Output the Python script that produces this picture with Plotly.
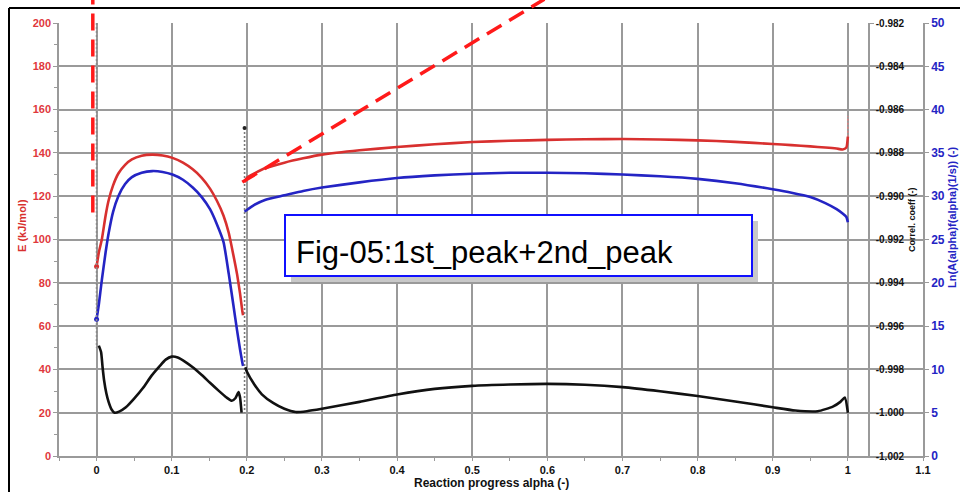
import plotly.graph_objects as go

# ---- data: reaction progress alpha vs. activation energy / ln(A f) / correlation ----
# first peak (0 <= alpha < 0.2)
alpha_p1 = [0.000, 0.003, 0.007, 0.012, 0.016, 0.022, 0.029, 0.038, 0.047, 0.060,
            0.074, 0.088, 0.101, 0.115, 0.128, 0.140, 0.151, 0.160, 0.169, 0.176,
            0.182, 0.187, 0.191, 0.194, 0.195]
E_p1 = [87.5, 94.0, 100.0, 111.0, 118.0, 125.0, 130.5, 134.5, 137.0, 138.7,
        139.2, 138.8, 137.7, 135.5, 132.4, 128.5, 123.5, 118.0, 111.0, 103.0,
        93.0, 84.0, 75.0, 67.0, 65.0]
lnA_p1 = [15.8, 17.5, 20.3, 23.5, 25.7, 28.2, 30.0, 31.4, 32.2, 32.7,
          32.9, 32.8, 32.5, 31.9, 31.0, 29.9, 28.5, 26.8, 24.7, 21.0,
          17.5, 14.5, 12.3, 10.8, 10.4]

alpha_r1 = [0.003, 0.006, 0.008, 0.010, 0.013, 0.016, 0.020, 0.024, 0.030, 0.039,
            0.050, 0.062, 0.073, 0.084, 0.092, 0.100, 0.108, 0.118, 0.128, 0.140,
            0.151, 0.162, 0.173, 0.180, 0.185, 0.189, 0.191, 0.193]
R_p1 = [-0.99690, -0.99720, -0.99790, -0.99850, -0.99910, -0.99950, -0.99985, -1.00000,
        -0.99995, -0.99975, -0.99935, -0.99885, -0.99830, -0.99785, -0.99755, -0.99741,
        -0.99745, -0.99765, -0.99790, -0.99826, -0.99862, -0.99897, -0.99930, -0.99945,
        -0.99932, -0.99905, -0.99930, -1.00000]

# second peak (0.2 <= alpha <= 1)
alpha_p2 = [0.197, 0.200, 0.210, 0.225, 0.250, 0.275, 0.300, 0.350, 0.400, 0.450,
            0.500, 0.550, 0.600, 0.650, 0.700, 0.750, 0.800, 0.850, 0.900, 0.925,
            0.950, 0.970, 0.985, 0.993, 0.998, 1.000]
E_p2 = [126.5, 128.5, 130.5, 133.0, 135.5, 137.5, 139.2, 141.2, 142.7, 144.0,
        145.0, 145.6, 146.0, 146.3, 146.4, 146.2, 145.8, 145.1, 144.1, 143.6,
        143.0, 142.5, 142.0, 141.6, 142.5, 147.5]
lnA_p2 = [28.2, 28.4, 29.0, 29.6, 30.1, 30.6, 31.0, 31.6, 32.1, 32.4,
          32.6, 32.7, 32.7, 32.65, 32.5, 32.3, 32.0, 31.5, 30.8, 30.4,
          29.9, 29.2, 28.5, 28.0, 27.6, 27.0]

alpha_r2 = [0.198, 0.200, 0.210, 0.220, 0.235, 0.250, 0.265, 0.280, 0.300, 0.350,
            0.400, 0.450, 0.500, 0.550, 0.600, 0.650, 0.700, 0.750, 0.800, 0.850,
            0.900, 0.930, 0.960, 0.980, 0.990, 0.996, 1.000]
R_p2 = [-0.99790, -0.99810, -0.99870, -0.99915, -0.99955, -0.99982, -0.99997, -0.99993,
        -0.99982, -0.99950, -0.99916, -0.99890, -0.99876, -0.99870, -0.99867, -0.99871,
        -0.99882, -0.99901, -0.99923, -0.99948, -0.99975, -0.99990, -0.99993, -0.99972,
        -0.99950, -0.99930, -1.00000]

# scattered point columns at the segment boundaries
col_alpha = [0.0, 0.0]
col_R = [-0.9820, -0.9970]
col2_alpha = [0.197, 0.197]
col2_R = [-0.98685, -1.0000]
col3_alpha = [1.0, 1.0]
col3_E = [147.5, 157.0]

x_ticks = [0, 0.1, 0.2, 0.3, 0.4, 0.5, 0.6, 0.7, 0.8, 0.9, 1.0, 1.1]
x_labels = ["0", "0.1", "0.2", "0.3", "0.4", "0.5", "0.6", "0.7", "0.8", "0.9", "1", "1.1"]
r_ticks = [-1.002, -1.000, -0.998, -0.996, -0.994, -0.992, -0.990, -0.988, -0.986, -0.984, -0.982]
r_labels = ["-1.002", "-1.000", "-0.998", "-0.996", "-0.994", "-0.992", "-0.990",
            "-0.988", "-0.986", "-0.984", "-0.982"]

title_text = "Fig-05:1st_peak+2nd_peak"

# ---- styling ----
RED = "#d8302f"
BLUE = "#2424c4"
BLACK = "#111111"
GRID = "#9a9a9a"
FONT = "Arial, Liberation Sans, sans-serif"

X_RANGE = [-0.05, 1.1]
E_RANGE = [0, 200]

# figure geometry in pixels (used for paper-space decorations)
W, H = 960, 492
ML, MR, MT, MB = 59, 37, 23, 36
PW, PH = W - ML - MR, H - MT - MB


def px(xpix):
    return (xpix - ML) / PW


def py(ypix):
    return (H - MB - ypix) / PH


def ax_x(a):
    return (a - X_RANGE[0]) / (X_RANGE[1] - X_RANGE[0])


def ax_e(e):
    return (e - E_RANGE[0]) / (E_RANGE[1] - E_RANGE[0])


fig = go.Figure()

# dotted point columns
fig.add_trace(go.Scatter(x=col_alpha, y=col_R, yaxis="y3", mode="lines",
                         line=dict(color="#8a8a8a", width=1.6, dash="2px,2px"),
                         hoverinfo="skip", showlegend=False))
fig.add_trace(go.Scatter(x=col2_alpha, y=col2_R, yaxis="y3", mode="lines",
                         line=dict(color="#7a7a7a", width=1.6, dash="2px,2px"),
                         hoverinfo="skip", showlegend=False))
fig.add_trace(go.Scatter(x=col2_alpha[:1], y=col2_R[:1], yaxis="y3", mode="markers",
                         marker=dict(color="#222", size=4),
                         hoverinfo="skip", showlegend=False))
fig.add_trace(go.Scatter(x=col3_alpha, y=col3_E, mode="lines",
                         line=dict(color="#e08080", width=1.4, dash="2px,2px"),
                         hoverinfo="skip", showlegend=False))

LINE_SHAPE = dict(shape="spline", smoothing=0.5)

# correlation coefficient
for xa, ya in ((alpha_r1, R_p1), (alpha_r2, R_p2)):
    fig.add_trace(go.Scatter(x=xa, y=ya, yaxis="y3", mode="lines",
                             line=dict(color=BLACK, width=2.6, **LINE_SHAPE),
                             showlegend=False))

# ln(A f(alpha))
for xa, ya in ((alpha_p1, lnA_p1), (alpha_p2, lnA_p2)):
    fig.add_trace(go.Scatter(x=xa, y=ya, yaxis="y2", mode="lines",
                             line=dict(color=BLUE, width=2.6, **LINE_SHAPE),
                             showlegend=False))

# activation energy
for xa, ya in ((alpha_p1, E_p1), (alpha_p2, E_p2)):
    fig.add_trace(go.Scatter(x=xa, y=ya, mode="lines",
                             line=dict(color=RED, width=2.6, **LINE_SHAPE),
                             showlegend=False))
# end markers of the first segment
fig.add_trace(go.Scatter(x=[alpha_p1[0]], y=[E_p1[0]], mode="markers",
                         marker=dict(color=RED, size=5), showlegend=False))
fig.add_trace(go.Scatter(x=[alpha_p1[0]], y=[lnA_p1[0]], yaxis="y2", mode="markers",
                         marker=dict(color=BLUE, size=5), showlegend=False))

shapes = []
# outer frame
shapes.append(dict(type="line", xref="paper", yref="paper",
                   x0=px(9), x1=px(9), y0=py(8), y1=py(520),
                   line=dict(color="black", width=2)))
shapes.append(dict(type="line", xref="paper", yref="paper",
                   x0=px(9), x1=px(990), y0=py(8), y1=py(8),
                   line=dict(color="black", width=2)))
# red dashed guide lines (alpha, E)
guide_v = [(-0.005, 112.5), (-0.005, 212.0)]
guide_d = [(0.194, 126.5), (0.596, 211.0)]
for (a0, e0), (a1, e1) in (guide_v, guide_d):
    shapes.append(dict(type="line", xref="paper", yref="paper",
                       x0=ax_x(a0), y0=ax_e(e0), x1=ax_x(a1), y1=ax_e(e1),
                       line=dict(color="#ff1a1a", width=3.5, dash="17px,9px"), layer="above"))
# caption box with drop shadow
shapes.append(dict(type="rect", xref="paper", yref="paper",
                   x0=px(291), x1=px(758), y0=py(221), y1=py(282),
                   fillcolor="#c8c8c8", line=dict(width=0), layer="above"))
shapes.append(dict(type="rect", xref="paper", yref="paper",
                   x0=px(285), x1=px(752), y0=py(215), y1=py(276),
                   fillcolor="white", line=dict(color="#1010ff", width=2), layer="above"))

annotations = [
    dict(text=title_text, xref="paper", yref="paper", x=px(294), y=py(252),
         xanchor="left", yanchor="middle", showarrow=False,
         font=dict(family=FONT, size=31, color="black")),
    dict(text="E (kJ/mol)", xref="paper", yref="paper", x=px(22), y=py(226),
         textangle=-90, showarrow=False, xanchor="center", yanchor="middle",
         font=dict(family=FONT, size=11, color=RED, weight="bold")),
    dict(text="Correl. coeff (-)", xref="paper", yref="paper", x=px(912), y=py(220),
         textangle=-90, showarrow=False, xanchor="center", yanchor="middle",
         font=dict(family=FONT, size=9, color=BLACK, weight="bold")),
    dict(text="Ln(A(alpha)f(alpha)(1/s)) (-)", xref="paper", yref="paper", x=px(952), y=py(218),
         textangle=-90, showarrow=False, xanchor="center", yanchor="middle",
         font=dict(family=FONT, size=11, color=BLUE, weight="bold")),
    dict(text="Reaction progress alpha (-)", xref="paper", yref="paper", x=px(491), y=py(483),
         showarrow=False, xanchor="center", yanchor="middle",
         font=dict(family=FONT, size=12, color=BLACK, weight="bold")),
]

axis_common = dict(showline=True, linecolor=GRID, linewidth=1.5, ticks="outside",
                   ticklen=4, tickcolor=GRID, tickwidth=1.2, zeroline=False)

fig.update_layout(
    width=W, height=H,
    margin=dict(l=ML, r=MR, t=MT, b=MB),
    paper_bgcolor="white", plot_bgcolor="white",
    font=dict(family=FONT),
    xaxis=dict(range=X_RANGE, tickvals=x_ticks, ticktext=x_labels,
               showgrid=True, gridcolor=GRID, gridwidth=1.5,
               tickfont=dict(size=11, color=BLACK, weight="bold"),
               minor=dict(dtick=0.05, tick0=0, ticks="outside", ticklen=3,
                          tickcolor=GRID, showgrid=False),
               **{**axis_common, "ticklen": 3}),
    yaxis=dict(range=E_RANGE, dtick=20, showgrid=True, gridcolor=GRID, gridwidth=1.5,
               tickfont=dict(size=11, color="#e0383c", weight="bold"),
               minor=dict(dtick=10, ticks="outside", ticklen=3, tickcolor=GRID, showgrid=False),
               **axis_common),
    yaxis2=dict(range=[0, 50], dtick=5, overlaying="y", side="right", anchor="x",
                showgrid=False, tickfont=dict(size=12, color=BLUE, weight="bold"),
                **axis_common),
    yaxis3=dict(range=[-1.002, -0.982], tickvals=r_ticks, ticktext=r_labels,
                overlaying="y", side="right", anchor="free", position=px(869),
                showgrid=False, tickfont=dict(size=10, color=BLACK, weight="bold"),
                **axis_common),
    shapes=shapes,
    annotations=annotations,
    showlegend=False,
)

fig.write_html("out.html")
